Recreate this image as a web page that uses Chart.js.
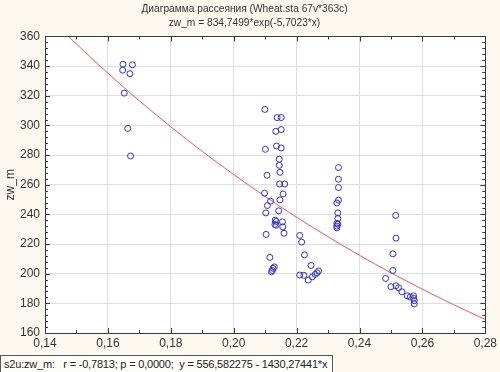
<!DOCTYPE html>
<html>
<head>
<meta charset="utf-8">
<script src="https://cdn.jsdelivr.net/npm/chart.js@4.4.1/dist/chart.umd.min.js"></script>
<style>
    html, body { margin: 0; padding: 0; background: #fbf9ef; }
    #wrap { position: relative; width: 500px; height: 372px; }
    #footer {
        position: absolute; left: 0; top: 355px; width: 328px; height: 16px;
        border: 1px solid #555; background: #fdfdf8; box-sizing: content-box;
        font: 11px "Liberation Sans", Arial, sans-serif; color: #222;
        letter-spacing: -0.2px;
        white-space: pre; line-height: 16px; padding-left: 3px;
    }
</style>
</head>
<body>
<div id="wrap">
    <canvas id="chart" width="500" height="372"></canvas>
    <div id="footer">s2u:zw_m:   r = -0,7813; p = 0,0000;  y = 556,582275 - 1430,27441*x</div>
</div>
<script>
// s2u (x) and zw_m (y)
const s2uValues = [
    0.1648, 0.1678, 0.1647, 0.1670, 0.1652, 0.1663, 0.1672,
    0.2099, 0.2138, 0.2151, 0.2134, 0.2151, 0.2136, 0.2151, 0.2101, 0.2145, 0.2145,
    0.2147, 0.2106, 0.2146, 0.2162, 0.2098, 0.2157, 0.2117, 0.2147, 0.2107, 0.2143,
    0.2102, 0.2132, 0.2135, 0.2155, 0.2131, 0.2135, 0.2156, 0.2160, 0.2103, 0.2115,
    0.2129, 0.2125, 0.2120, 0.2123,
    0.2210, 0.2216, 0.2225, 0.2246, 0.2210, 0.2223, 0.2237, 0.2250, 0.2259, 0.2265, 0.2270,
    0.2333, 0.2333, 0.2333, 0.2333, 0.2328, 0.2331, 0.2331, 0.2328, 0.2331, 0.2328, 0.2328,
    0.2515, 0.2516, 0.2506, 0.2506, 0.2483, 0.2500, 0.2516, 0.2524, 0.2535, 0.2552,
    0.2561, 0.2572, 0.2572, 0.2574, 0.2574
];
const zwValues = [
    341.3, 340.9, 337.3, 334.9, 321.8, 298.0, 279.4,
    310.8, 305.3, 305.3, 296.0, 297.2, 286.1, 284.8, 283.9, 277.2, 273.1,
    268.4, 266.4, 260.5, 260.5, 254.3, 253.8, 248.9, 249.8, 246.0, 242.4,
    241.0, 236.1, 235.2, 235.0, 233.2, 232.7, 231.6, 227.3, 226.5, 211.0,
    204.6, 203.6, 201.3, 202.2,
    225.8, 221.3, 212.7, 205.6, 199.1, 198.9, 195.7, 197.9, 199.5, 200.6, 201.8,
    271.6, 263.7, 258.1, 249.6, 247.7, 241.0, 237.2, 233.9, 233.4, 232.1, 230.9,
    239.3, 224.0, 213.4, 202.2, 196.8, 191.2, 191.9, 190.5, 187.8, 185.1,
    184.2, 185.1, 183.4, 181.8, 179.7
];

// fitted curve zw_m = 834,7499*exp(-5,7023*x), sampled at every 0.01
const fitX = [0.14, 0.15, 0.16, 0.17, 0.18, 0.19, 0.20, 0.21, 0.22, 0.23, 0.24, 0.25, 0.26, 0.27, 0.28];
const fitY = [375.7, 354.9, 335.2, 316.6, 299.1, 282.5, 266.9, 252.1, 238.1, 224.9, 212.4, 200.6, 189.5, 179.0, 169.1];

const titleText = 'Диаграмма рассеяния (Wheat.sta 67v*363c)';
const subtitleText = 'zw_m = 834,7499*exp(-5,7023*x)';

const FONT = '"Liberation Sans", Arial, sans-serif';

// white plot area, frame and small inward ticks like Statistica
const framePlugin = {
    id: 'frame',
    beforeDraw(chart) {
        const a = chart.chartArea, ctx = chart.ctx;
        ctx.save();
        ctx.fillStyle = '#ffffff';
        ctx.fillRect(a.left, a.top, a.right - a.left, a.bottom - a.top);
        ctx.restore();
    },
    afterDraw(chart) {
        const a = chart.chartArea, ctx = chart.ctx;
        const xs = chart.scales.x, ys = chart.scales.y;
        ctx.save();
        ctx.strokeStyle = '#3a3a3a';
        ctx.lineWidth = 1;
        ctx.strokeRect(Math.round(a.left) + 0.5, Math.round(a.top) + 0.5,
            Math.round(a.right - a.left), Math.round(a.bottom - a.top));
        ctx.beginPath();
        for (let i = 0; i <= 14; i++) {
            const px = Math.round(xs.getPixelForValue((14 + i) / 100)) + 0.5;
            const len = i % 2 === 0 ? 5 : 3;
            ctx.moveTo(px, a.bottom); ctx.lineTo(px, a.bottom - len);
            ctx.moveTo(px, a.top); ctx.lineTo(px, a.top + len);
        }
        for (let v = 160; v <= 360; v += 4) {
            const py = Math.round(ys.getPixelForValue(v)) + 0.5;
            const len = v % 20 === 0 ? 5 : 3;
            ctx.moveTo(a.left, py); ctx.lineTo(a.left + len, py);
            ctx.moveTo(a.right, py); ctx.lineTo(a.right - len, py);
        }
        ctx.stroke();
        ctx.restore();
    }
};

const points = s2uValues.map((x, i) => ({ x: x, y: zwValues[i] }));
const curve = fitX.map((x, i) => ({ x: x, y: fitY[i] }));

new Chart(document.getElementById('chart').getContext('2d'), {
    type: 'scatter',
    data: {
        datasets: [
            {
                label: 'zw_m',
                data: points,
                pointStyle: 'circle',
                pointRadius: 3,
                pointBorderWidth: 1,
                borderColor: '#3232c8',
                backgroundColor: 'rgba(0,0,0,0)'
            },
            {
                label: 'fit',
                type: 'line',
                data: curve,
                showLine: true,
                borderColor: '#dc5a5a',
                borderWidth: 1,
                pointRadius: 0,
                tension: 0.4,
                cubicInterpolationMode: 'monotone',
                fill: false
            }
        ]
    },
    options: {
        responsive: false,
        animation: false,
        layout: { padding: { top: 0, right: 11, left: 0, bottom: 0 } },
        plugins: {
            legend: { display: false },
            tooltip: { enabled: false },
            title: {
                display: true,
                text: titleText,
                color: '#333',
                font: { family: FONT, size: 10.2, weight: 'normal' },
                padding: { top: 3, bottom: 0 }
            },
            subtitle: {
                display: true,
                text: subtitleText,
                color: '#333',
                font: { family: FONT, size: 10.2, weight: 'normal' },
                padding: { top: 2, bottom: 7 }
            }
        },
        scales: {
            x: {
                type: 'linear',
                min: 0.14,
                max: 0.28,
                afterFit(scale) { scale.height = 39; },
                ticks: {
                    stepSize: 0.02,
                    color: '#333',
                    padding: 3,
                    font: { family: FONT, size: 12 },
                    callback: v => v.toFixed(2).replace('.', ',')
                },
                grid: { color: '#dedede', drawTicks: false },
                border: { color: '#3a3a3a' }
            },
            y: {
                min: 160,
                max: 360,
                afterFit(scale) { scale.width = 45; },
                ticks: {
                    stepSize: 20,
                    color: '#333',
                    padding: 5,
                    font: { family: FONT, size: 12 }
                },
                title: {
                    display: true,
                    text: 'zw_m',
                    color: '#333',
                    font: { family: FONT, size: 12 },
                    padding: { top: 3, bottom: 0 }
                },
                grid: { color: '#dedede', drawTicks: false },
                border: { color: '#3a3a3a' }
            }
        }
    },
    plugins: [framePlugin]
});
</script>
</body>
</html>
